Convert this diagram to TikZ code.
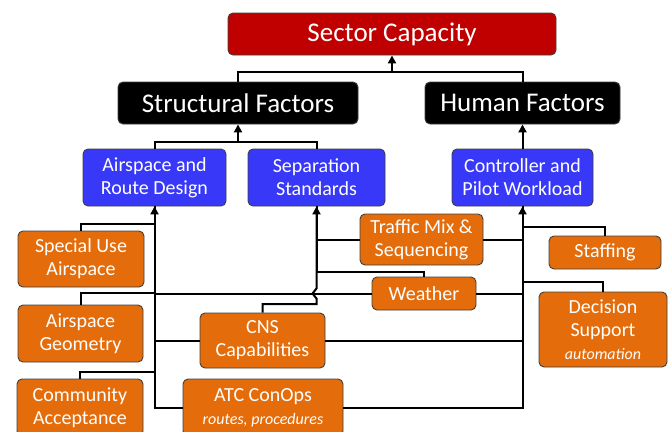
\documentclass[tikz,border=0pt]{standalone}
\usepackage{fontspec}
\setmainfont{Carlito}
\usetikzlibrary{arrows.meta}

\definecolor{capred}{HTML}{C00000}
\definecolor{subblue}{HTML}{3838F8}
\definecolor{itemorange}{HTML}{E46C0A}
\definecolor{rim}{HTML}{404040}

\def\klein{\fontsize{16}{19}\selectfont\itshape}

\begin{document}
\begin{tikzpicture}[
    x=1pt, y=-1pt,
    % Grundform aller Kästen
    box/.style={rectangle, rounded corners=5pt, draw=rim, line width=0.9pt,
                text=white, align=center, inner sep=0pt},
    % oberste Ebene
    capstyle/.style={box, fill=capred, font=\fontsize{27}{32}\selectfont, minimum height=42pt},
    % Faktoren
    factor/.style={box, fill=black, font=\fontsize{27}{32}\selectfont, minimum height=42pt},
    % Unterfaktoren
    sub/.style={box, fill=subblue, font=\fontsize{20}{23}\selectfont, minimum height=57pt},
    % Einflussgrößen
    item/.style={box, fill=itemorange, font=\fontsize{20}{23}\selectfont},
    % Verbindungen
    link/.style={line width=2pt},
    feed/.style={link, -{Triangle[width=8pt,length=8pt]}}
]
\useasboundingbox (0,0) rectangle (668,431);

% --- OBEN: KAPAZITÄT UND FAKTOREN ---
\node[capstyle, minimum width=328pt] (cap) at (392,34) {Sector Capacity};
\node[factor, minimum width=240pt] (struct) at (238,103) {Structural Factors};
\node[factor, minimum width=195pt] (human) at (522.5,103) {Human Factors};

% --- MITTE: UNTERFAKTOREN ---
\node[sub, minimum width=143pt] (ard) at (154.5,177.5) {Airspace and\\Route Design};
\node[sub, minimum width=137pt] (sep) at (316.5,177.5) {Separation\\Standards};
\node[sub, minimum width=141pt] (cpw) at (522.5,177.5) {Controller and\\Pilot Workload};

% --- UNTEN: EINFLUSSGRÖSSEN ---
\node[item, minimum width=126pt, minimum height=56pt] (sua) at (81,259) {Special Use\\Airspace};
\node[item, minimum width=125pt, minimum height=57pt] (geo) at (80.5,333.5) {Airspace\\Geometry};
\node[item, minimum width=126pt, minimum height=57pt] (com) at (80,407.5) {Community\\Acceptance};
\node[item, minimum width=123pt, minimum height=51pt] (tms) at (421.5,239.5) {Traffic Mix \&\\Sequencing};
\node[item, minimum width=104pt, minimum height=33pt] (wx) at (424,293.5) {Weather};
\node[item, minimum width=125pt, minimum height=55pt] (cns) at (262.5,340.5) {CNS\\Capabilities};
\node[item, minimum width=160pt, minimum height=57pt] (atc) at (263,407.5) {ATC ConOps\\{\klein routes, procedures}};
\node[item, minimum width=112pt, minimum height=33pt] (stf) at (605,252.5) {Staffing};
\node[item, minimum width=128pt, minimum height=75pt] (dss) at (603,329.5) {Decision\\Support\\{\klein automation}};

% --- Verbindungen nach oben ---
\coordinate (ja) at (392,72);
\draw[link] (struct.north) |- (ja) -| (human.north);
\draw[feed] (ja) -- (cap.south);
\coordinate (jb) at (238,142);
\draw[link] (ard.north) |- (jb) -| (sep.north);
\draw[feed] (jb) -- (struct.south);
\draw[feed] (cpw.north) -- (human.south);

% --- Sammelleitung links ---
\draw[feed] (atc.west) -| (ard.south);
\draw[link] (sua.north) -- ++(0,-7) -| (ard.south);
\draw[link] (geo.north) -- ++(0,-11.5) -| (ard.south);
\draw[link] (com.north) -- ++(0,-7) -| (ard.south);
\draw[link] (cns.west) -| (ard.south);
\draw[link] (wx.west) -| (ard.south);

% --- Sammelleitung Mitte (mit Sprung) ---
\coordinate (hop) at (sep.south |- wx.west);
\draw[feed] (cns.north) -- ++(0,-8.5) -| ([yshift=-5pt]hop) -- ([xshift=-4pt]hop)
    -- ([yshift=5pt]hop) -- (sep.south);
\draw[link] (tms.west) -| (sep.south);
\draw[link] (wx.north) -- ++(0,-5) -| (sep.south);

% --- Sammelleitung rechts ---
\draw[feed] (atc.east) -| (cpw.south);
\draw[link] (cns.east) -| (cpw.south);
\draw[link] (wx.east) -| (cpw.south);
\draw[link] (tms.east) -| (cpw.south);
\draw[link] (stf.north) -- ++(0,-9) -| (cpw.south);
\draw[link] (dss.north) -- ++(0,-10) -| (cpw.south);

\end{tikzpicture}
\end{document}
